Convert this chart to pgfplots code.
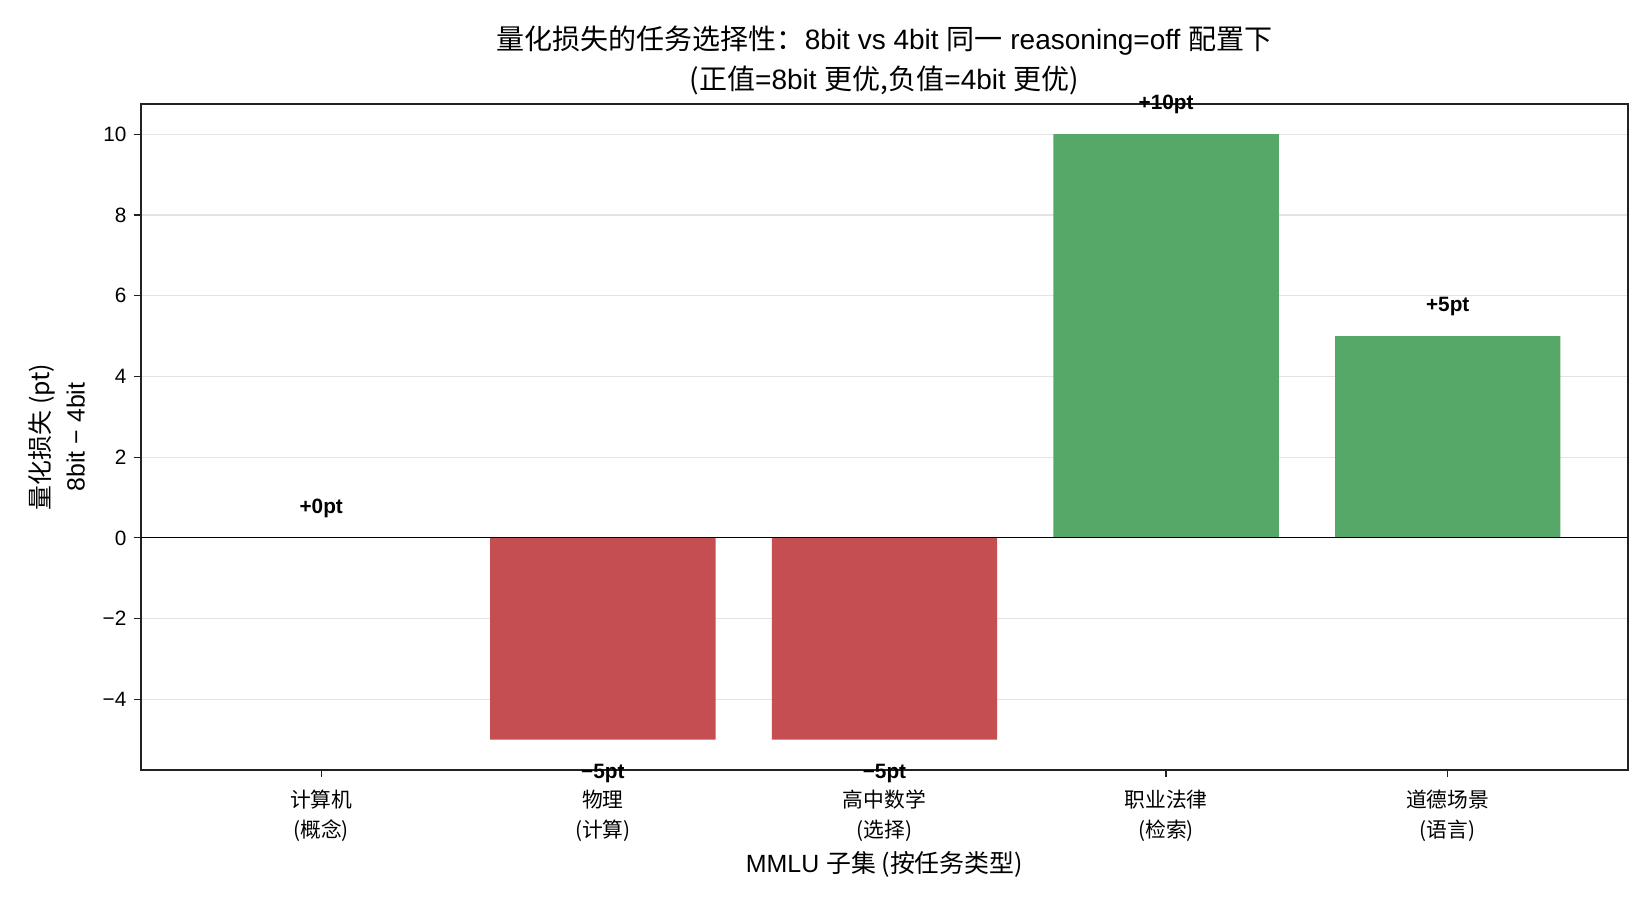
\documentclass[border=0pt]{standalone}
\usepackage{fontspec}
\setmainfont{Liberation Sans}
\newfontfamily\cjk{Noto Sans CJK SC}
\usepackage{pgfplots}
\pgfplotsset{compat=1.18}
\definecolor{barred}{HTML}{C44E52}
\definecolor{bargreen}{HTML}{55A868}
\definecolor{gridgray}{HTML}{E3E3E3}
\definecolor{axgray}{HTML}{222222}
\newcommand{\fs}[2]{\fontsize{#1}{#2}\selectfont}

\begin{document}
\begin{tikzpicture}
\begin{axis}[
  at={(0,0)}, anchor=south west,
  width=9.913in, height=4.44in, scale only axis,
  xmin=-0.64, xmax=4.64, ymin=-5.75, ymax=10.75,
  xtick={0,1,2,3,4},
  xticklabels={{\cjk 计算机}\\{\cjk (概念)}, {\cjk 物理}\\{\cjk (计算)}, {\cjk 高中数学}\\{\cjk (选择)}, {\cjk 职业法律}\\{\cjk (检索)}, {\cjk 道德场景}\\{\cjk (语言)}},
  xticklabel style={align=center, font=\fs{10}{14.5}, yshift=-2.5pt},
  ytick={-4,-2,0,2,4,6,8,10},
  yticklabels={−4,−2,0,2,4,6,8,10},
  yticklabel style={font=\fs{10}{12}},
  tick align=outside, major tick length=3.5pt,
  xtick pos=bottom, ytick pos=left,
  tick style={axgray, line width=0.6pt},
  axis line style={axgray, line width=0.8pt},
  ymajorgrids, grid style={gridgray, line width=0.6pt},
  title={{\cjk 量化损失的任务选择性：}8bit vs 4bit {\cjk 同一} reasoning=off {\cjk 配置下}\\{\cjk (正值}=8bit {\cjk 更优,负值}=4bit {\cjk 更优)}},
  title style={align=center, font=\fs{13.5}{19.2}, at={(axis description cs:0.5,1)}, anchor=south, inner sep=0pt, yshift=-2pt},
  xlabel={MMLU {\cjk 子集 (按任务类型)}},
  xlabel style={font=\fs{12}{14}, at={(axis description cs:0.5,0)}, anchor=center, yshift=-45.6pt},
  ylabel={{\cjk 量化损失 (pt)}\\8bit − 4bit},
  ylabel style={align=center, font=\fs{12}{16.8}, at={(axis description cs:0,0.5)}, anchor=center, yshift=40.6pt},
  clip=false,
]
\addplot[ybar, bar width=0.8, bar shift=0pt, draw=none, fill=barred]
  coordinates {(1,-5) (2,-5)};
\addplot[ybar, bar width=0.8, bar shift=0pt, draw=none, fill=bargreen]
  coordinates {(0,0) (3,10) (4,5)};
\addplot[black, line width=0.6pt] coordinates {(-0.64,0) (4.64,0)};
\addplot[draw=none, mark=none, nodes near coords, point meta=explicit symbolic,
  nodes near coords style={anchor=center, font=\bfseries\fs{10}{12}, text=black}]
  table[meta=lab] {
x y lab
0 0.72 +0pt
1 -5.84 −5pt
2 -5.84 −5pt
3 10.74 +10pt
4 5.72 +5pt
};
\end{axis}
\pgfresetboundingbox
\useasboundingbox (-0.94in,-0.867in) rectangle (10.06in,5.133in);
\end{tikzpicture}
\end{document}
